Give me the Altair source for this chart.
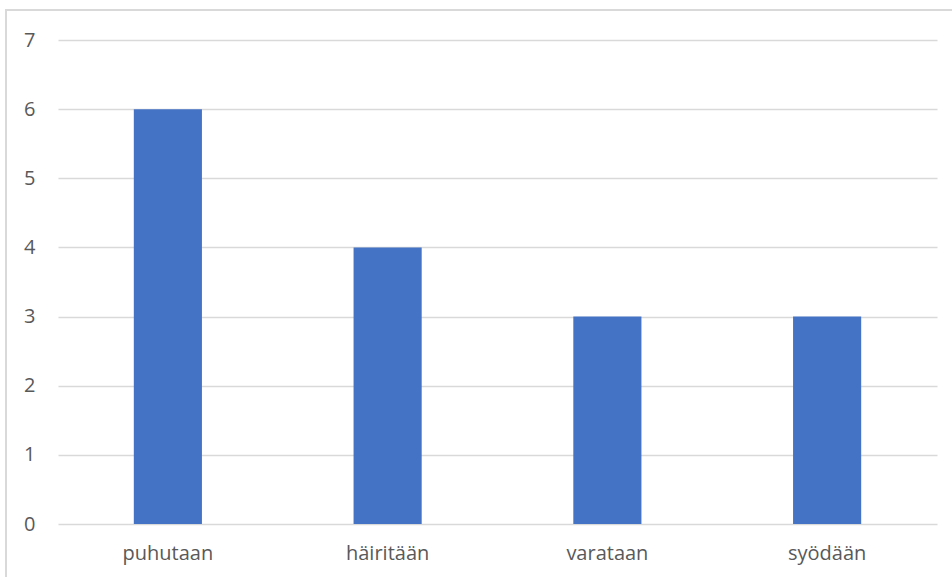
import altair as alt
import pandas as pd

categories = ["puhutaan", "häiritään", "varataan", "syödään"]
values = [6, 4, 3, 3]

df = pd.DataFrame({"sana": categories, "maara": values})

FONT = "Open Sans"
TXT = "#595959"

bars = alt.Chart(df).mark_bar(color="#4472c4").encode(
    x=alt.X("sana:N", sort=categories,
            scale=alt.Scale(paddingInner=0.69, paddingOuter=0.345),
            axis=alt.Axis(title=None, labelAngle=0, ticks=False, domain=False,
                          grid=False, labelPadding=19, labelFontSize=20,
                          labelColor=TXT, labelFont=FONT)),
    y=alt.Y("maara:Q", scale=alt.Scale(domain=[0, 7], nice=False),
            axis=alt.Axis(title=None, values=list(range(8)), ticks=False,
                          domain=False, labelPadding=23, labelFontSize=20,
                          labelColor=TXT, labelFont=FONT, gridColor="#d9d9d9",
                          gridWidth=1.3)),
)

border = alt.Chart(df).mark_rect(fill=None, stroke="#d9d9d9", strokeWidth=2).encode(
    x=alt.value(-52), x2=alt.value(920), y=alt.value(-30), y2=alt.value(600)
)

chart = alt.layer(border, bars).properties(
    width=879, height=484,
    background="white",
    padding={"left": 58, "top": 40, "right": 15, "bottom": 53},
    autosize=alt.AutoSizeParams(type="none"),
).configure_view(stroke=None)

chart.save("out.html", embed_options={"renderer": "svg", "actions": False})
